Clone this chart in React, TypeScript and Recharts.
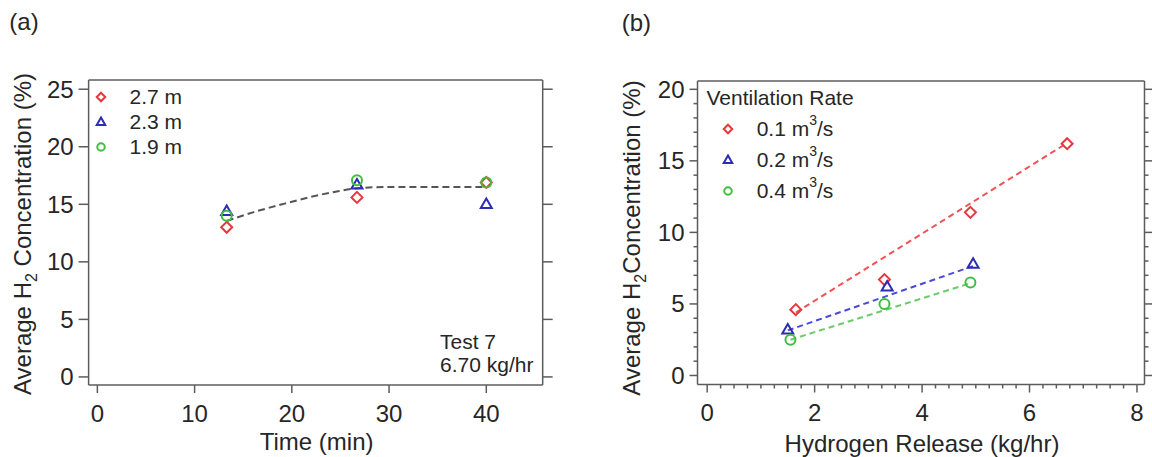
import React from 'react';
import { ComposedChart, Scatter, Line, XAxis, YAxis, Legend, Label } from 'recharts';

const FONT = '"Liberation Sans", Arial, Helvetica, sans-serif';
const TEXT = '#262626';
const AXIS = '#5c5c5c';
const RED = '#e5383d';
const BLUE = '#2c2cb4';
const GREEN = '#3fbf3f';

// (a) concentration vs time, Test 7
const timeMin = [13.3, 26.7, 40];
const conc27m = [13.0, 15.6, 16.9];
const conc23m = [14.4, 16.7, 15.0];
const conc19m = [14.0, 17.1, 16.9];
const trendTime = [13.3, 16, 19, 22, 24.5, 27, 30, 35, 40];
const trendConc = [13.55, 14.3, 15.0, 15.65, 16.1, 16.42, 16.5, 16.5, 16.5];
const timeTicks = [0, 10, 20, 30, 40];
const concTicksA = [0, 5, 10, 15, 20, 25];

// (b) concentration vs hydrogen release
const rel01 = [1.65, 3.3, 4.9, 6.7];
const conc01 = [4.6, 6.7, 11.4, 16.2];
const rel02 = [1.5, 3.35, 4.95];
const conc02 = [3.2, 6.2, 7.8];
const rel04 = [1.55, 3.3, 4.9];
const conc04 = [2.5, 5.0, 6.5];
const fit01Rel = [1.65, 6.7];
const fit01Conc = [4.4, 16.25];
const fit02Rel = [1.5, 4.95];
const fit02Conc = [3.15, 7.65];
const fit04Rel = [1.55, 4.9];
const fit04Conc = [2.5, 6.45];
const releaseTicks = [0, 2, 4, 6, 8];
const releaseAllTicks = Array.from({ length: 33 }, (_, i) => i * 0.25);
const concTicksB = [0, 5, 10, 15, 20];
const concAllTicksB = Array.from({ length: 21 }, (_, i) => i);

const pts = (xs: number[], ys: number[]) => xs.map((x, i) => ({ x, y: ys[i] }));

type Kind = 'diamond' | 'triangle' | 'circle';

const Marker = ({ kind, cx = 0, cy = 0, color, size }: { kind: Kind; cx?: number; cy?: number; color: string; size: number }) => {
  const r = size / 2;
  if (kind === 'diamond') {
    return <polygon points={`${cx},${cy - r} ${cx + r},${cy} ${cx},${cy + r} ${cx - r},${cy}`} fill="none" stroke={color} strokeWidth={2} />;
  }
  if (kind === 'triangle') {
    const h = size * 0.866;
    return (
      <polygon
        points={`${cx},${cy - h * 0.6} ${cx + r},${cy + h * 0.4} ${cx - r},${cy + h * 0.4}`}
        fill="none"
        stroke={color}
        strokeWidth={2}
      />
    );
  }
  return <circle cx={cx} cy={cy} r={r - 0.5} fill="none" stroke={color} strokeWidth={2} />;
};

const seriesA = [
  { name: '2.7 m', kind: 'diamond' as Kind, color: RED, ys: conc27m },
  { name: '2.3 m', kind: 'triangle' as Kind, color: BLUE, ys: conc23m },
  { name: '1.9 m', kind: 'circle' as Kind, color: GREEN, ys: conc19m },
];

const seriesB = [
  { rate: '0.1', kind: 'diamond' as Kind, color: RED, xs: rel01, ys: conc01, fx: fit01Rel, fy: fit01Conc, fit: '#ef5257' },
  { rate: '0.2', kind: 'triangle' as Kind, color: BLUE, xs: rel02, ys: conc02, fx: fit02Rel, fy: fit02Conc, fit: '#4a4ad8' },
  { rate: '0.4', kind: 'circle' as Kind, color: GREEN, xs: rel04, ys: conc04, fx: fit04Rel, fy: fit04Conc, fit: '#6ccb6c' },
];

// axes are kept (almost) zero-sized so the margins alone place the plot box
const THIN = 0.01;
const line = { stroke: AXIS, strokeWidth: 1.5 };
const tickText = { fontSize: 24, fill: TEXT, fontFamily: FONT };
const blank = () => '';
const textStyle = { fontFamily: FONT, fill: TEXT };

// panel (b): one axis per side draws both the long (labelled) and short ticks
type Side = 'bottom' | 'top' | 'left' | 'right';
const makeTick = (side: Side, majors: number[], labelled: boolean) => (props: any) => {
  const { x, y, payload } = props;
  const v = payload.value as number;
  const major = majors.includes(v);
  const len = major ? 8 : 4;
  const lineEl =
    side === 'bottom' ? <line x1={x} x2={x} y1={y} y2={y + len} {...line} /> :
    side === 'top' ? <line x1={x} x2={x} y1={y} y2={y - len} {...line} /> :
    side === 'left' ? <line x1={x} x2={x - len} y1={y} y2={y} {...line} /> :
    <line x1={x} x2={x + len} y1={y} y2={y} {...line} />;
  let label = null;
  if (labelled && major) {
    label =
      side === 'bottom' ? (
        <text x={x} y={y + 37} textAnchor="middle" fontSize={24} {...textStyle}>{v}</text>
      ) : (
        <text x={x - 13} y={y + 8.5} textAnchor="end" fontSize={24} {...textStyle}>{v}</text>
      );
  }
  return (
    <g>
      {lineEl}
      {label}
    </g>
  );
};

const LegendA = () => (
  <div style={{ fontFamily: FONT, fontSize: 21, color: TEXT, lineHeight: '25px' }}>
    {seriesA.map((s) => (
      <div key={s.name} style={{ display: 'flex', alignItems: 'center', height: 25 }}>
        <svg width={14} height={14} style={{ overflow: 'visible' }}>
          <Marker kind={s.kind} cx={7} cy={7} color={s.color} size={8.5} />
        </svg>
        <span style={{ marginLeft: 21.6, whiteSpace: 'nowrap' }}>{s.name}</span>
      </div>
    ))}
  </div>
);

const LegendB = () => (
  <div style={{ fontFamily: FONT, fontSize: 21, color: TEXT, lineHeight: '31px' }}>
    <div style={{ height: 31, whiteSpace: 'nowrap' }}>Ventilation Rate</div>
    {seriesB.map((s) => (
      <div key={s.rate} style={{ display: 'flex', alignItems: 'center', height: 31 }}>
        <svg width={14} height={14} style={{ overflow: 'visible', marginLeft: 14.5 }}>
          <Marker kind={s.kind} cx={7} cy={7} color={s.color} size={8.5} />
        </svg>
        <span style={{ marginLeft: 21.7, whiteSpace: 'nowrap' }}>
          {s.rate} m<span style={{ fontSize: 14, verticalAlign: '11px', lineHeight: 0 }}>3</span>/s
        </span>
      </div>
    ))}
  </div>
);

const PanelA = () => (
  <ComposedChart width={576} height={457} margin={{ top: 80, right: 33.3, bottom: 72, left: 88.6 }} style={{ overflow: 'visible' }}>
    <XAxis
      xAxisId="main"
      type="number"
      dataKey="x"
      domain={[-0.9, 45.8]}
      allowDataOverflow
      ticks={timeTicks}
      interval={0}
      height={THIN}
      tickSize={8}
      tickMargin={12}
      tick={tickText}
      axisLine={line}
      tickLine={line}
    >
      <Label
        content={() => (
          <text x={316.6} y={450} textAnchor="middle" fontSize={24} {...textStyle}>
            Time (min)
          </text>
        )}
      />
    </XAxis>
    <XAxis
      xAxisId="top"
      orientation="top"
      type="number"
      domain={[-0.9, 45.8]}
      allowDataOverflow
      ticks={timeTicks}
      interval={0}
      height={THIN}
      tickSize={8}
      tickFormatter={blank}
      axisLine={line}
      tickLine={line}
    >
      <Label
        content={() => (
          <text x={9.3} y={30} fontSize={24} {...textStyle}>
            (a)
          </text>
        )}
      />
    </XAxis>
    <YAxis
      yAxisId="main"
      type="number"
      dataKey="y"
      domain={[-0.7, 25.8]}
      allowDataOverflow
      ticks={concTicksA}
      interval={0}
      width={THIN}
      tickSize={10}
      tickMargin={5}
      tick={tickText}
      axisLine={line}
      tickLine={line}
    >
      <Label
        content={() => (
          <text x={31} y={234} transform="rotate(-90 31 234)" textAnchor="middle" fontSize={24} {...textStyle}>
            Average H
            <tspan dy={6} fontSize={16}>2</tspan>
            <tspan dy={-6}> Concentration (%)</tspan>
          </text>
        )}
      />
    </YAxis>
    <YAxis
      yAxisId="right"
      orientation="right"
      type="number"
      domain={[-0.7, 25.8]}
      allowDataOverflow
      ticks={concTicksA}
      interval={0}
      width={THIN}
      tickSize={10}
      tickFormatter={blank}
      axisLine={line}
      tickLine={line}
    >
      <Label
        content={() => (
          <g>
            <text x={440} y={349.3} fontSize={21} {...textStyle}>Test 7</text>
            <text x={440} y={371.7} fontSize={21} {...textStyle}>6.70 kg/hr</text>
          </g>
        )}
      />
    </YAxis>
    <Line
      xAxisId="main"
      yAxisId="main"
      data={pts(trendTime, trendConc)}
      dataKey="y"
      type="monotone"
      stroke="#555555"
      strokeWidth={2}
      strokeDasharray="7 4"
      dot={false}
      activeDot={false}
      isAnimationActive={false}
    />
    {seriesA.map((s) => (
      <Scatter
        key={s.name}
        name={s.name}
        xAxisId="main"
        yAxisId="main"
        data={pts(timeMin, s.ys)}
        isAnimationActive={false}
        shape={(p: any) => <Marker kind={s.kind} cx={p.cx} cy={p.cy} color={s.color} size={11} />}
      />
    ))}
    <Legend
      layout="vertical"
      align="center"
      verticalAlign="middle"
      wrapperStyle={{ left: 94, top: 84.2, width: 'auto', height: 'auto' }}
      content={() => <LegendA />}
    />
  </ComposedChart>
);

const PanelB = () => (
  <ComposedChart width={576} height={457} margin={{ top: 81, right: 7.5, bottom: 72.5, left: 121.5 }} style={{ overflow: 'visible' }}>
    <XAxis
      xAxisId="main"
      type="number"
      dataKey="x"
      domain={[-0.18, 8.14]}
      allowDataOverflow
      ticks={releaseAllTicks}
      interval={0}
      height={THIN}
      tickSize={0}
      tickMargin={0}
      tickLine={false}
      tick={makeTick('bottom', releaseTicks, true)}
      axisLine={line}
    >
      <Label
        content={() => (
          <text x={346} y={451.5} textAnchor="middle" fontSize={24} {...textStyle}>
            Hydrogen Release (kg/hr)
          </text>
        )}
      />
    </XAxis>
    <XAxis
      xAxisId="top"
      orientation="top"
      type="number"
      domain={[-0.18, 8.14]}
      allowDataOverflow
      ticks={releaseAllTicks}
      interval={0}
      height={THIN}
      tickSize={0}
      tickMargin={0}
      tickLine={false}
      tick={makeTick('top', releaseTicks, false)}
      axisLine={line}
    >
      <Label
        content={() => (
          <text x={45.7} y={30.5} fontSize={24} {...textStyle}>
            (b)
          </text>
        )}
      />
    </XAxis>
    <YAxis
      yAxisId="main"
      type="number"
      dataKey="y"
      domain={[-0.63, 20.58]}
      allowDataOverflow
      ticks={concAllTicksB}
      interval={0}
      width={THIN}
      tickSize={0}
      tickMargin={0}
      tickLine={false}
      tick={makeTick('left', concTicksB, true)}
      axisLine={line}
    >
      <Label
        content={() => (
          <text x={64} y={238} transform="rotate(-90 64 238)" textAnchor="middle" fontSize={24} {...textStyle}>
            Average H
            <tspan dy={6} fontSize={16}>2</tspan>
            <tspan dy={-6}>Concentration (%)</tspan>
          </text>
        )}
      />
    </YAxis>
    <YAxis
      yAxisId="right"
      orientation="right"
      type="number"
      domain={[-0.63, 20.58]}
      allowDataOverflow
      ticks={concAllTicksB}
      interval={0}
      width={THIN}
      tickSize={0}
      tickMargin={0}
      tickLine={false}
      tick={makeTick('right', concTicksB, false)}
      axisLine={line}
    />
    {seriesB.map((s) => (
      <Line
        key={`fit-${s.rate}`}
        xAxisId="main"
        yAxisId="main"
        data={pts(s.fx, s.fy)}
        dataKey="y"
        type="linear"
        stroke={s.fit}
        strokeWidth={2}
        strokeDasharray="6 4"
        dot={false}
        activeDot={false}
        isAnimationActive={false}
      />
    ))}
    {seriesB.map((s) => (
      <Scatter
        key={s.rate}
        name={`${s.rate} m3/s`}
        xAxisId="main"
        yAxisId="main"
        data={pts(s.xs, s.ys)}
        isAnimationActive={false}
        shape={(p: any) => <Marker kind={s.kind} cx={p.cx} cy={p.cy} color={s.color} size={11} />}
      />
    ))}
    <Legend
      layout="vertical"
      align="center"
      verticalAlign="middle"
      wrapperStyle={{ left: 130.5, top: 82.2, width: 'auto', height: 'auto' }}
      content={() => <LegendB />}
    />
  </ComposedChart>
);

export default function App() {
  return (
    <div style={{ position: 'absolute', left: 0, top: 0, width: 1152, height: 457, background: '#fff' }}>
      <div style={{ position: 'absolute', left: 0, top: 0 }}>
        <PanelA />
      </div>
      <div style={{ position: 'absolute', left: 576, top: 0 }}>
        <PanelB />
      </div>
    </div>
  );
}
